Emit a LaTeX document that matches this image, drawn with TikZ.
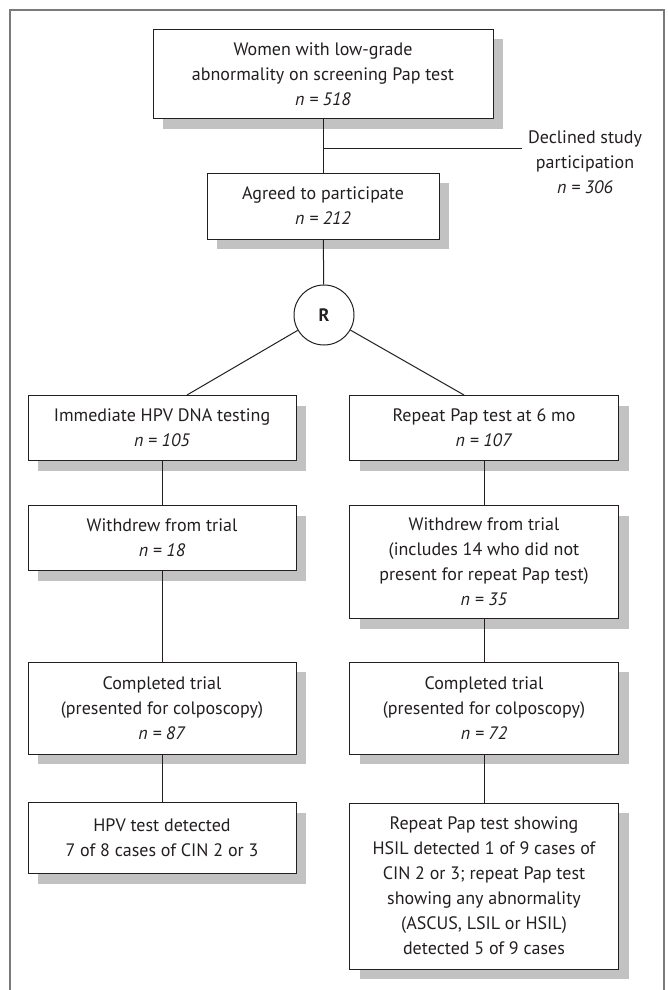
\documentclass[tikz,border=0pt]{standalone}
\usepackage{fontspec}
\setmainfont{PT Sans}
\usepackage{tikz}
\definecolor{flowInk}{HTML}{231F20}
\definecolor{flowShade}{HTML}{C2C2C2}
\definecolor{flowFrame}{HTML}{7A7A7A}
\usetikzlibrary{shadows}

\begin{document}
\begin{tikzpicture}[x=1pt,y=-1pt, every node/.style={font=\fontsize{18}{25}\selectfont, text=flowInk},
  stepbox/.style={draw=flowInk, line width=1pt, fill=white, align=center, inner sep=0pt,
    drop shadow={shadow xshift=10pt, shadow yshift=-10pt, fill=flowShade, opacity=1}},
  link/.style={draw=flowInk, line width=1pt}]
  \useasboundingbox (0,0) rectangle (667,990);
  % outer frame, open at the bottom
  \draw[flowFrame, line width=1.5pt] (10,990) -- (10,10) -- (664,10) -- (664,990);

  \node[stepbox, minimum width=340pt, minimum height=89pt] (screened) at (323,74)
    {Women with low-grade\\abnormality on screening Pap test\\\textit{n = 518}};
  \node[stepbox, minimum width=232pt, minimum height=66pt] (agreed) at (323,206)
    {Agreed to participate\\\textit{n = 212}};
  \node[align=center, inner sep=6pt] (declined) at (585,162)
    {Declined study\\participation\\\textit{n = 306}};
  \node[draw=flowInk, line width=1pt, circle, minimum size=60pt, inner sep=0pt, font=\fontsize{18}{25}\selectfont\bfseries] (rand) at (324,315) {R};

  % left arm: HPV testing
  \node[stepbox, minimum width=268pt, minimum height=65pt] (hpv) at (162,428)
    {Immediate HPV DNA testing\\\textit{n = 105}};
  \node[stepbox, minimum width=268pt, minimum height=65pt] (hpvout) at (162,538)
    {Withdrew from trial\\\textit{n = 18}};
  \node[stepbox, minimum width=268pt, minimum height=92pt] (hpvdone) at (162,708)
    {Completed trial\\(presented for colposcopy)\\\textit{n = 87}};
  \node[stepbox, minimum width=268pt, minimum height=71pt] (hpvres) at (162,838)
    {HPV test detected\\7 of 8 cases of CIN 2 or 3};

  % right arm: repeat Pap test
  \node[stepbox, minimum width=269pt, minimum height=65pt] (pap) at (484,428)
    {Repeat Pap test at 6 mo\\\textit{n = 107}};
  \node[stepbox, minimum width=269pt, minimum height=113pt] (papout) at (484,562)
    {Withdrew from trial\\(includes 14 who did not\\present for repeat Pap test)\\\textit{n = 35}};
  \node[stepbox, minimum width=269pt, minimum height=92pt] (papdone) at (484,708)
    {Completed trial\\(presented for colposcopy)\\\textit{n = 72}};
  \node[stepbox, minimum width=269pt, minimum height=166pt] (papres) at (484,886)
    {Repeat Pap test showing\\HSIL detected 1 of 9 cases of\\CIN 2 or 3; repeat Pap test\\showing any abnormality\\(ASCUS, LSIL or HSIL)\\detected 5 of 9 cases};

  \coordinate (split) at (323,148);
  \draw[link] (screened) -- (agreed);
  \draw[link] (split) -- (split -| declined.west);
  \draw[link] (agreed) -- (rand);
  \draw[link] (rand) -- ([xshift=25pt]hpv.north);
  \draw[link] (rand) -- ([xshift=-20pt]pap.north);
  \draw[link] (hpv) -- (hpvout);
  \draw[link] (hpvout) -- (hpvdone);
  \draw[link] (hpvdone) -- (hpvres);
  \draw[link] (pap) -- (papout);
  \draw[link] (papout) -- (papdone);
  \draw[link] (papdone) -- (papres);
\end{tikzpicture}
\end{document}
